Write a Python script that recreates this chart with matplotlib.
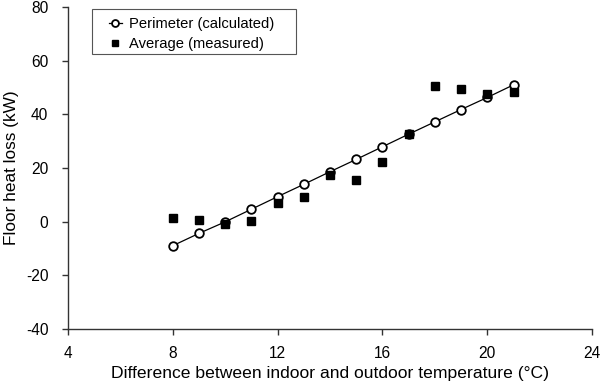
import matplotlib
matplotlib.use("Agg")
import matplotlib.pyplot as plt
from matplotlib.patches import Rectangle

plt.rcParams['font.family'] = ['Liberation Sans', 'DejaVu Sans']
plt.rcParams['axes.unicode_minus'] = False

# temperature difference (°C)
temp_diff = [8, 9, 10, 11, 12, 13, 14, 15, 16, 17, 18, 19, 20, 21]
# perimeter method (calculated), kW
perimeter = [-9.0, -4.4, -0.1, 4.6, 9.3, 13.9, 18.6, 23.2, 27.9, 32.6, 37.2, 41.8, 46.3, 51.0]
# average (measured), kW
measured = [1.4, 0.6, -1.0, 0.1, 7.0, 9.2, 17.5, 15.6, 22.3, 32.7, 50.7, 49.6, 47.4, 48.5]

fig = plt.figure(figsize=(6, 3.92), dpi=100)
ax = fig.add_axes([0.113, 0.161, 0.874, 0.821])

ax.plot(temp_diff, perimeter, '-o', color='black', lw=0.9,
        mfc='white', mec='black', mew=1.3, ms=6.2, label='Perimeter (calculated)')
ax.plot(temp_diff, measured, 's', color='black', ms=5.3, lw=0,
        label='Average (measured)')

ax.set_xlim(4, 24)
ax.set_ylim(-40, 80)
ax.set_xticks([4, 8, 12, 16, 20, 24])
ax.set_yticks([-40, -20, 0, 20, 40, 60, 80])

for s in ['top', 'right']:
    ax.spines[s].set_visible(False)
for s in ['left', 'bottom']:
    ax.spines[s].set_color('#333333')
    ax.spines[s].set_linewidth(1.0)
ax.tick_params(direction='out', length=4, width=1, color='#333333', labelsize=11.2)
ax.tick_params(axis='x', pad=8.5)
ax.tick_params(axis='y', pad=10)

ax.set_xlabel('Difference between indoor and outdoor temperature (°C)', fontsize=12.6, labelpad=3.5)
ax.set_ylabel('Floor heat loss (kW)', fontsize=12.4, labelpad=5)

# legend box drawn separately so the padding matches
ax.add_patch(Rectangle((0.046, 0.854), 0.389, 0.14, transform=ax.transAxes,
                       facecolor='white', edgecolor='#555555', lw=0.8, zorder=4))
leg = ax.legend(loc='upper left', bbox_to_anchor=(0.078, 0.969), fontsize=10.6,
                frameon=False, handlelength=0.9, handletextpad=0.45, borderpad=0,
                labelspacing=0.42, borderaxespad=0, markerscale=0.8)
leg.set_zorder(5)

fig.savefig('out.png', dpi=100)
